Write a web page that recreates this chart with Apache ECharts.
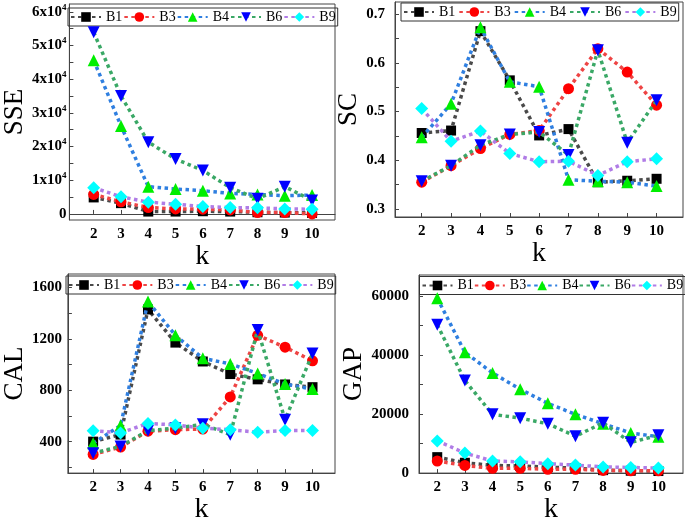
<!DOCTYPE html>
<html><head><meta charset="utf-8">
<script src="https://cdn.jsdelivr.net/npm/echarts@6/dist/echarts.min.js"></script>
<style>html,body{margin:0;padding:0;background:#fff}#c{width:685px;height:525px}</style>
</head><body><div id="c"></div>
<script>
// ---- data ----
const kValues = [2, 3, 4, 5, 6, 7, 8, 9, 10];
const seriesNames = ['B1', 'B3', 'B4', 'B6', 'B9'];

const sseB1 = [4900, 3200, 700, 700, 800, 700, 500, 400, 300];
const sseB3 = [5800, 3600, 1900, 1500, 1400, 1200, 400, 400, 0];
const sseB4 = [45600, 26100, 8100, 7400, 6900, 6100, 5800, 5400, 5600];
const sseB6 = [53900, 35000, 21300, 16300, 12900, 7800, 4500, 8100, 4000];
const sseB9 = [7800, 5100, 3500, 2900, 2200, 1900, 1800, 1500, 1400];

const scB1 = [0.456, 0.461, 0.665, 0.564, 0.451, 0.464, 0.355, 0.358, 0.362];
const scB3 = [0.355, 0.389, 0.424, 0.453, 0.461, 0.547, 0.629, 0.581, 0.513];
const scB4 = [0.447, 0.516, 0.673, 0.561, 0.551, 0.360, 0.357, 0.355, 0.347];
const scB6 = [0.357, 0.389, 0.431, 0.453, 0.458, 0.411, 0.626, 0.436, 0.523];
const scB9 = [0.506, 0.439, 0.460, 0.414, 0.397, 0.398, 0.369, 0.397, 0.403];

const calB1 = [400, 455, 1429, 1171, 1024, 926, 885, 845, 824];
const calB3 = [300, 358, 481, 493, 498, 748, 1228, 1135, 1029];
const calB4 = [388, 525, 1490, 1228, 1049, 1005, 931, 848, 809];
const calB6 = [310, 363, 485, 505, 535, 454, 1269, 571, 1086];
const calB9 = [485, 468, 542, 530, 505, 493, 473, 486, 486];

const gapB1 = [5400, 3500, 2600, 2400, 2000, 1700, 1000, 800, 700];
const gapB3 = [4100, 2600, 1600, 1600, 1300, 1300, 900, 800, 800];
const gapB4 = [59200, 40900, 33900, 28400, 23600, 19900, 16700, 13600, 12300];
const gapB6 = [50200, 31300, 19900, 18600, 16700, 12500, 17000, 10400, 12800];
const gapB9 = [10900, 6800, 4100, 3800, 3200, 2700, 2100, 1900, 1700];

const sseLabels = [0, 10000, 20000, 30000, 40000, 50000, 60000];
const sseTicks = [0, 5000, 10000, 15000, 20000, 25000, 30000, 35000, 40000, 45000, 50000, 55000, 60000];
const scLabels = [0.3, 0.4, 0.5, 0.6, 0.7];
const scTicks = [0.3, 0.35, 0.4, 0.45, 0.5, 0.55, 0.6, 0.65, 0.7];
const calLabels = [400, 800, 1200, 1600];
const calTicks = [200, 400, 600, 800, 1000, 1200, 1400, 1600];
const gapLabels = [0, 20000, 40000, 60000];
const gapTicks = [0, 10000, 20000, 30000, 40000, 50000, 60000];

// ---- styles ----
const FONT = '"Liberation Serif", "Times New Roman", serif';
const styles = {
  B1: { line: '#4a4a4a', mark: '#000000', symbol: 'rect', size: 10, rot: 0 },
  B3: { line: '#ee4444', mark: '#ff0000', symbol: 'circle', size: 11, rot: 0 },
  B4: { line: '#2f7fe0', mark: '#00ee00', symbol: 'triangle', size: 12, rot: 0 },
  B6: { line: '#3aa866', mark: '#0000ff', symbol: 'triangle', size: 12, rot: 180 },
  B9: { line: '#b07ce6', mark: '#00ffff', symbol: 'diamond', size: 13, rot: 0 }
};

const panels = [
  { name: 'SSE', data: [sseB1, sseB3, sseB4, sseB6, sseB9], labels: sseLabels, ticks: sseTicks,
    grid: { left: 64, top: 4, width: 271, height: 216 },
    x: [1.11, 10.84], y: [-1800, 62300], lblMargin: 3, yGap: 40, xGap: 15, yFont: 27,
    legend: { left: 68, top: 8, itemGap: 1 },
    fmt: v => v === 0 ? '{m|0}' : '{m|' + (v / 10000) + 'x10}{s|4}' },
  { name: 'SC', data: [scB1, scB3, scB4, scB6, scB9], labels: scLabels, ticks: scTicks,
    grid: { left: 395, top: 2, width: 288, height: 215 },
    x: [1.09, 10.9], y: [0.2836, 0.7248], lblMargin: 10, yGap: 22, xGap: 10, yFont: 27,
    legend: { left: 401, top: 3, itemGap: 3 },
    fmt: v => '{m|' + v.toFixed(1) + '}' },
  { name: 'CAL', data: [calB1, calB3, calB4, calB6, calB9], labels: calLabels, ticks: calTicks,
    grid: { left: 59, top: 274, width: 276, height: 211 },
    x: [1.08, 10.82], y: [155, 1705], lblMargin: 6, yGap: 37, xGap: 18, yFont: 27,
    legend: { left: 66, top: 276, itemGap: 1 },
    fmt: v => '{m|' + v + '}' },
  { name: 'GAP', data: [gapB1, gapB3, gapB4, gapB6, gapB9], labels: gapLabels, ticks: gapTicks,
    grid: { left: 419, top: 275, width: 264, height: 212 },
    x: [1.34, 10.89], y: [0, 67050], lblMargin: 10, yGap: 48, xGap: 6, yFont: 27,
    legend: { left: 419.5, top: 276.5, itemGap: 0 },
    fmt: v => '{m|' + v + '}' }
];

const rich = {
  m: { fontFamily: FONT, fontWeight: 'bold', fontSize: 15, color: '#000' },
  s: { fontFamily: FONT, fontWeight: 'bold', fontSize: 9, color: '#000', padding: [0, 0, 9, 0] }
};

const grids = [], xAxes = [], yAxes = [], legends = [], series = [];
panels.forEach((p, i) => {
  grids.push(Object.assign({ show: true, borderColor: '#444', borderWidth: 1, backgroundColor: 'transparent' }, p.grid));
  xAxes.push({
    gridIndex: i, type: 'value', min: p.x[0], max: p.x[1],
    name: 'k', nameLocation: 'middle', nameGap: p.xGap,
    nameTextStyle: { fontFamily: FONT, fontSize: 28, color: '#000' },
    axisLine: { lineStyle: { color: '#444', width: 1 } },
    axisTick: { inside: true, length: 4, customValues: kValues, lineStyle: { color: '#444' } },
    axisLabel: { customValues: kValues, margin: 7, fontFamily: FONT, fontWeight: 'bold', fontSize: 15, color: '#000' },
    splitLine: { show: false }
  });
  yAxes.push({
    gridIndex: i, type: 'value', min: p.y[0], max: p.y[1],
    name: p.name, nameLocation: 'middle', nameGap: p.yGap,
    nameTextStyle: { fontFamily: FONT, fontSize: p.yFont, color: '#000' },
    axisLine: { lineStyle: { color: '#444', width: 1 } },
    axisTick: { inside: true, length: 4, customValues: p.ticks, lineStyle: { color: '#444' } },
    axisLabel: { customValues: p.labels, margin: p.lblMargin, formatter: p.fmt, rich: rich },
    splitLine: { show: false }
  });
  legends.push({
    data: seriesNames, left: p.legend.left, top: p.legend.top, width: 330, orient: 'horizontal',
    itemGap: p.legend.itemGap, itemWidth: 30, itemHeight: 12,
    padding: [2, 2, 2, 2], borderColor: '#333', borderWidth: 1,
    selectedMode: false,
    textStyle: { fontFamily: FONT, fontSize: 14, color: '#000' }
  });
  seriesNames.forEach((n, j) => {
    const st = styles[n];
    series.push({
      name: n, type: 'line', xAxisIndex: i, yAxisIndex: i,
      data: kValues.map((k, t) => [k, p.data[j][t]]),
      symbol: st.symbol, symbolSize: st.size, symbolRotate: st.rot,
      showAllSymbol: true, animation: false,
      lineStyle: { color: st.line, width: 3.5, type: [3.5, 3.5], cap: 'butt' },
      itemStyle: { color: st.mark, borderWidth: 0 },
      z: 2 + j
    });
  });
});

const chart = echarts.init(document.getElementById('c'), null, { renderer: 'canvas' });
chart.setOption({
  animation: false,
  backgroundColor: '#fff',
  grid: grids, xAxis: xAxes, yAxis: yAxes, legend: legends, series: series
});
</script></body></html>
